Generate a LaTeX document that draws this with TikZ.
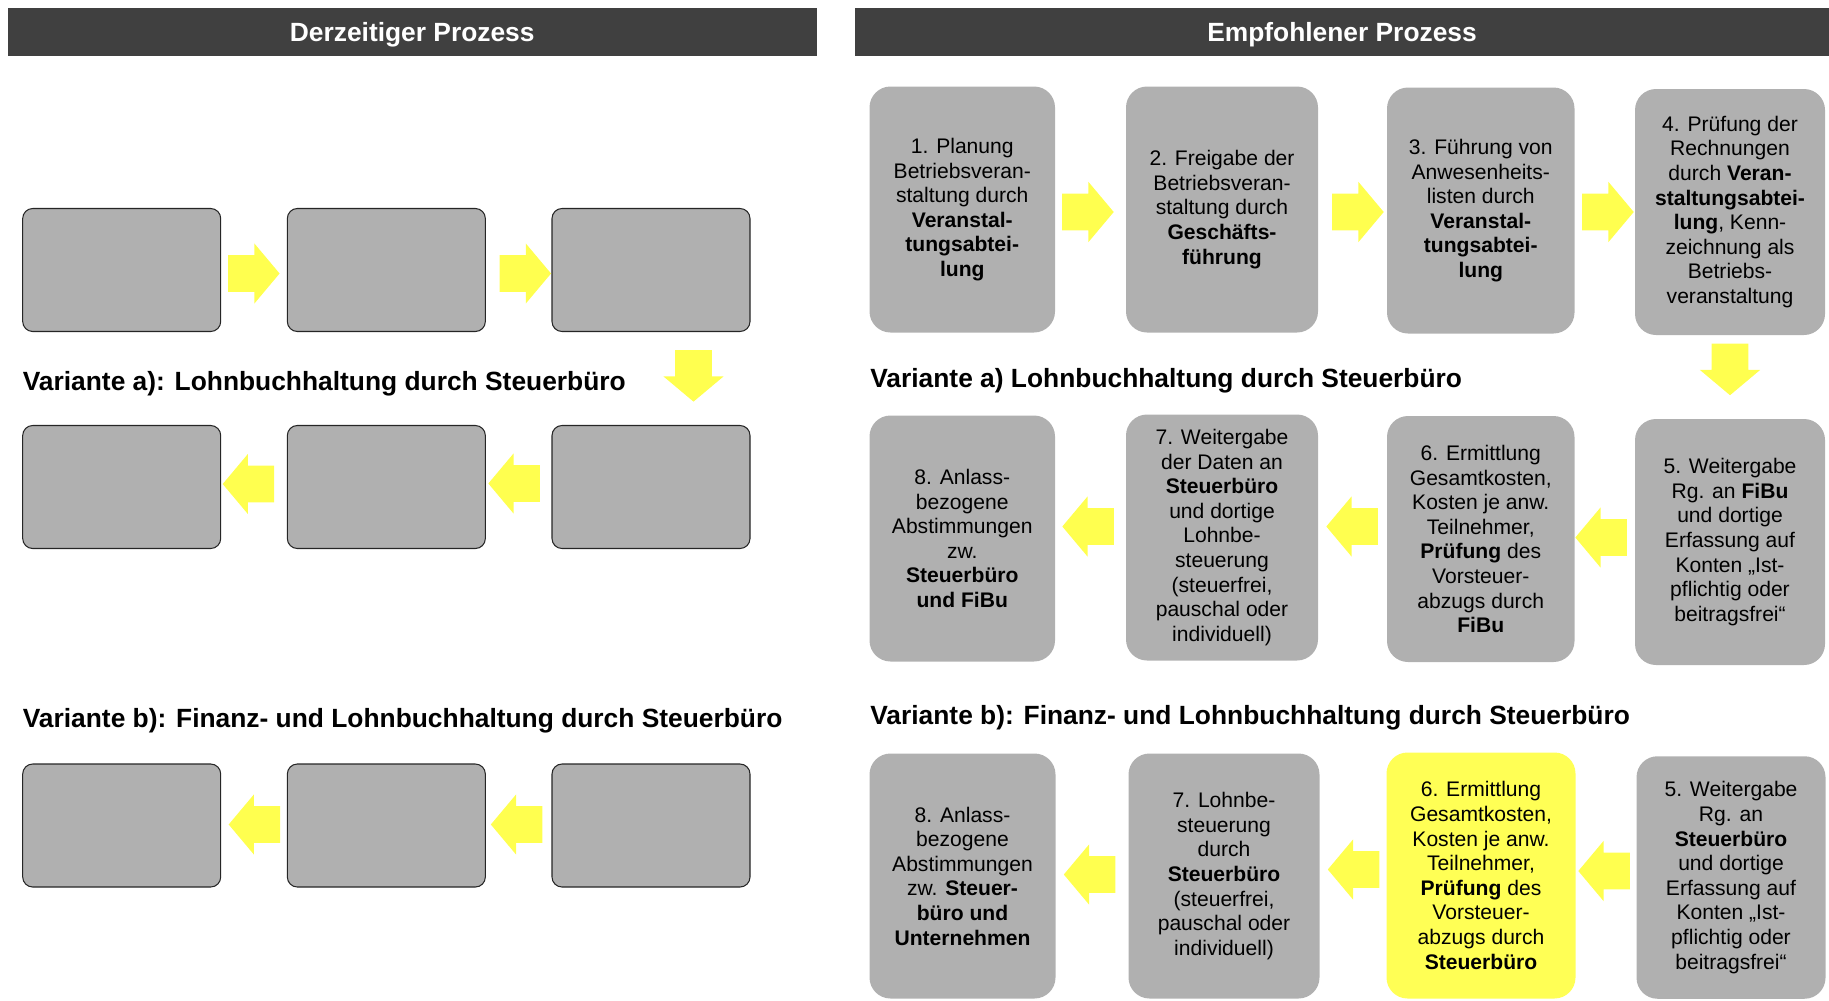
\documentclass[tikz,border=0pt]{standalone}
\usepackage{fontspec}
\setmainfont{Liberation Sans}
\usetikzlibrary{shapes.arrows,positioning,calc}

\definecolor{kopfgrau}{HTML}{404040}
\definecolor{boxgrau}{HTML}{B0B0B0}
\definecolor{pfeilgelb}{HTML}{FFFF4F}
\definecolor{boxgelb}{HTML}{FFFF55}

\begin{document}
\begin{tikzpicture}[
  kopf/.style={fill=kopfgrau, text=white, inner sep=0pt, minimum height=0.96cm, text depth=0pt, font=\fontsize{15}{18}\selectfont\bfseries},
  leerbox/.style={draw=black!85, line width=0.6pt, fill=boxgrau, rounded corners=0.2cm, minimum width=3.96cm, minimum height=2.46cm},
  schritt/.style={fill=boxgrau, rounded corners=0.42cm, minimum height=4.92cm, align=center, inner sep=1pt, font=\fontsize{12}{14}\selectfont},
  variante/.style={anchor=base west, inner sep=0pt, font=\fontsize{15}{18}\selectfont\bfseries},
  pfeil/.style={single arrow, fill=pfeilgelb, inner xsep=0pt, inner ysep=0.36cm, minimum height=1.03cm, single arrow head extend=0.235cm, single arrow tip angle=100}
]
\useasboundingbox (0,0) rectangle (36.58,-20);

% Kopfzeilen
\node[kopf, minimum width=16.17cm] (kopfL) at (8.245,-0.64) {Derzeitiger Prozess};
\node[kopf, minimum width=19.48cm] (kopfR) at (26.84,-0.64) {Empfohlener Prozess};

% Derzeitiger Prozess: leere Kaesten
\node[leerbox] (d1) at (2.434,-5.40) {};
\node[leerbox] (d2) at (7.727,-5.40) {};
\node[leerbox] (d3) at (13.02,-5.40) {};
\node[leerbox] (da1) at (2.434,-9.74) {};
\node[leerbox] (da2) at (7.727,-9.74) {};
\node[leerbox] (da3) at (13.02,-9.74) {};
\node[leerbox] (db1) at (2.434,-16.51) {};
\node[leerbox] (db2) at (7.727,-16.51) {};
\node[leerbox] (db3) at (13.02,-16.51) {};

\node[variante] (varLa) at (0.45,-7.80) {Variante a): Lohnbuchhaltung durch Steuerbüro};
\node[variante] (varLb) at (0.45,-14.55) {Variante b): Finanz- und Lohnbuchhaltung durch Steuerbüro};

% Pfeile links
\node[pfeil, anchor=tail] (pd12) at ($(d1.east)+(0.13,-0.07)$) {};
\node[pfeil, anchor=tip] (pd23) at ($(d3.west)+(0,-0.07)$) {};
\node[pfeil, anchor=tail, rotate=-90] (pd3a) at ($(d3.south)+(0.85,-0.355)$) {};
\node[pfeil, anchor=tip, rotate=180] (pda32) at ($(da2.east)+(0.04,0.07)$) {};
\node[pfeil, anchor=tip, rotate=180] (pda21) at ($(da1.east)+(0.02,0.06)$) {};
\node[pfeil, anchor=tip, rotate=180] (pdb32) at ($(db2.east)+(0.09,0.02)$) {};
\node[pfeil, anchor=tip, rotate=180] (pdb21) at ($(db1.east)+(0.14,0.02)$) {};

% Empfohlener Prozess
\node[schritt, minimum width=3.71cm] (e1) at (19.245,-4.19) {1. Planung\\Betriebsveran-\\staltung durch\\\textbf{Veranstal-}\\\textbf{tungsabtei-}\\\textbf{lung}};
\node[schritt, minimum width=3.84cm] (e2) at (24.44,-4.19) {2. Freigabe der\\Betriebsveran-\\staltung durch\\\textbf{Geschäfts-}\\\textbf{führung}};
\node[schritt, minimum width=3.75cm] (e3) at (29.615,-4.21) {3. Führung von\\Anwesenheits-\\listen durch\\\textbf{Veranstal-}\\\textbf{tungsabtei-}\\\textbf{lung}};
\node[schritt, minimum width=3.80cm] (e4) at (34.60,-4.24) {4. Prüfung der\\Rechnungen\\durch \textbf{Veran-}\\\textbf{staltungsabtei-}\\\textbf{lung}, Kenn-\\zeichnung als\\Betriebs-\\veranstaltung};

\node[variante] (varRa) at (17.40,-7.74) {Variante a) Lohnbuchhaltung durch Steuerbüro};

\node[schritt, minimum width=3.80cm] (ea5) at (34.60,-10.84) {5. Weitergabe\\Rg. an \textbf{FiBu}\\und dortige\\Erfassung auf\\Konten „Ist-\\pflichtig oder\\beitragsfrei“};
\node[schritt, minimum width=3.75cm] (ea6) at (29.615,-10.78) {6. Ermittlung\\Gesamtkosten,\\Kosten je anw.\\Teilnehmer,\\\textbf{Prüfung} des\\Vorsteuer-\\abzugs durch\\\textbf{FiBu}};
\node[schritt, minimum width=3.84cm] (ea7) at (24.44,-10.75) {7. Weitergabe\\der Daten an\\\textbf{Steuerbüro}\\und dortige\\Lohnbe-\\steuerung\\(steuerfrei,\\pauschal oder\\individuell)};
\node[schritt, minimum width=3.71cm] (ea8) at (19.245,-10.77) {8. Anlass-\\bezogene\\Abstimmungen\\zw.\\\textbf{Steuerbüro}\\\textbf{und FiBu}};

\node[variante] (varRb) at (17.40,-14.49) {Variante b): Finanz- und Lohnbuchhaltung durch Steuerbüro};

\node[schritt, minimum width=3.78cm, minimum height=4.85cm] (eb5) at (34.62,-17.55) {5. Weitergabe\\Rg. an\\\textbf{Steuerbüro}\\und dortige\\Erfassung auf\\Konten „Ist-\\pflichtig oder\\beitragsfrei“};
\node[schritt, fill=boxgelb, minimum width=3.78cm, minimum height=4.92cm] (eb6) at (29.62,-17.51) {6. Ermittlung\\Gesamtkosten,\\Kosten je anw.\\Teilnehmer,\\\textbf{Prüfung} des\\Vorsteuer-\\abzugs durch\\\textbf{Steuerbüro}};
\node[schritt, minimum width=3.82cm, minimum height=4.9cm] (eb7) at (24.48,-17.52) {7. Lohnbe-\\steuerung\\durch\\\textbf{Steuerbüro}\\(steuerfrei,\\pauschal oder\\individuell)};
\node[schritt, minimum width=3.72cm, minimum height=4.9cm] (eb8) at (19.25,-17.52) {8. Anlass-\\bezogene\\Abstimmungen\\zw. \textbf{Steuer-}\\\textbf{büro und}\\\textbf{Unternehmen}};

% Pfeile rechts
\node[pfeil, anchor=tail] (pe12) at ($(e1.east)+(0.13,-0.05)$) {};
\node[pfeil, anchor=tail] (pe23) at ($(e2.east)+(0.27,-0.05)$) {};
\node[pfeil, anchor=tail] (pe34) at ($(e3.east)+(0.14,-0.03)$) {};
\node[pfeil, anchor=tail, rotate=-90] (pe45) at ($(e4.south)+(0,-0.16)$) {};
\node[pfeil, anchor=tip, rotate=180] (pea56) at ($(ea6.east)+(0,0.03)$) {};
\node[pfeil, anchor=tip, rotate=180] (pea67) at ($(ea7.east)+(0.15,0.22)$) {};
\node[pfeil, anchor=tip, rotate=180] (pea78) at ($(ea8.east)+(0.13,0.24)$) {};
\node[pfeil, anchor=tip, rotate=180] (peb56) at ($(eb6.east)+(0.04,0.09)$) {};
\node[pfeil, anchor=tip, rotate=180] (peb67) at ($(eb7.east)+(0.15,0.13)$) {};
\node[pfeil, anchor=tip, rotate=180] (peb78) at ($(eb8.east)+(0.15,0.03)$) {};
\end{tikzpicture}
\end{document}
